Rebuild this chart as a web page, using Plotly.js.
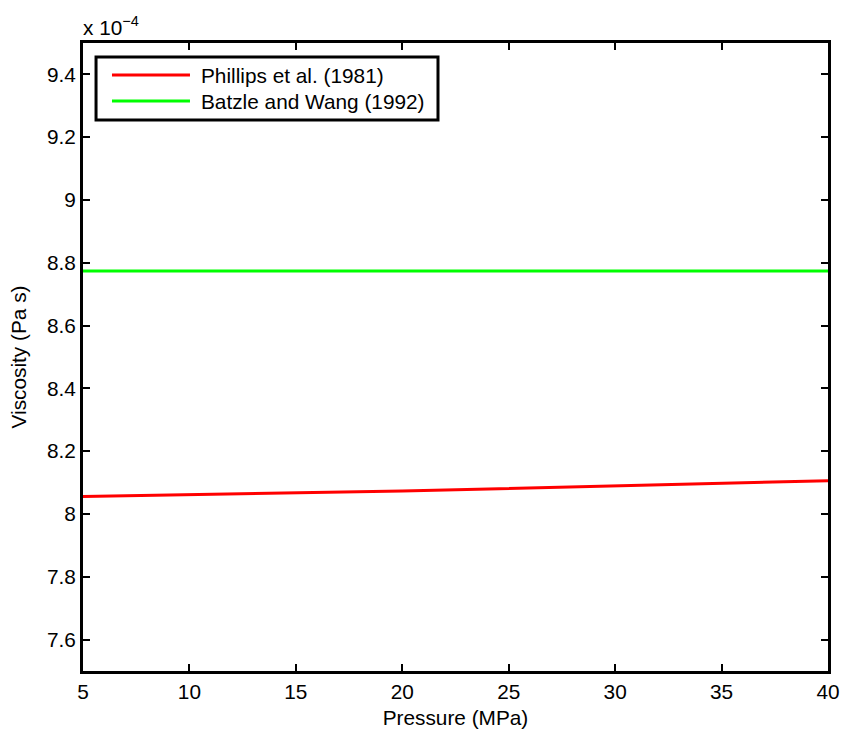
<!DOCTYPE html>
<html>
<head>
<meta charset="utf-8">
<script src="https://cdn.plot.ly/plotly-3.0.1.min.js"></script>
<style>html,body{margin:0;padding:0;background:#fff;}#chart{width:842px;height:733px;}</style>
</head>
<body>
<div id="chart"></div>
<script>
// Pressure (MPa)
const pressure = [5, 20, 40];
// Viscosity in units of 1e-4 Pa s
const phillips = [8.056, 8.073, 8.106];
const batzleWang = [8.774, 8.774, 8.774];
const seriesNames = ["Phillips et al. (1981)", "Batzle and Wang (1992)"];
const seriesColors = ["#ff0000", "#00ff00"];
const xTicks = [5, 10, 15, 20, 25, 30, 35, 40];
const yTicks = [7.6, 7.8, 8, 8.2, 8.4, 8.6, 8.8, 9, 9.2, 9.4];
const yTickLabels = ["7.6", "7.8", "8", "8.2", "8.4", "8.6", "8.8", "9", "9.2", "9.4"];

const FONT = "Liberation Sans, Arial, sans-serif";
const FS = 20.8;

const traces = [
  {x: pressure, y: phillips, mode: "lines", name: seriesNames[0], line: {color: seriesColors[0], width: 3}, showlegend: false},
  {x: pressure, y: batzleWang, mode: "lines", name: seriesNames[1], line: {color: seriesColors[1], width: 3}, showlegend: false}
];

// Legend drawn MATLAB-style (box, sample lines, labels)
const legY = [0.949, 0.9076];
const shapes = [
  {type: "rect", xref: "paper", yref: "paper", x0: 0.0175, x1: 0.4765, y0: 0.8774, y1: 0.9777,
   line: {color: "black", width: 3}, fillcolor: "white", layer: "above"}
];
const annotations = [
  {xref: "paper", yref: "paper", x: 0, y: 1, xanchor: "left", yanchor: "bottom", yshift: 2, xshift: -2,
   text: "x 10<sup>\u22124</sup>", showarrow: false, font: {family: FONT, size: FS, color: "black"}}
];
seriesNames.forEach((n, i) => {
  shapes.push({type: "line", xref: "paper", yref: "paper", x0: 0.0389, x1: 0.1436, y0: legY[i], y1: legY[i],
    line: {color: seriesColors[i], width: 3}, layer: "above"});
  annotations.push({xref: "paper", yref: "paper", x: 0.1557, y: legY[i], xanchor: "left", yanchor: "middle",
    text: n, showarrow: false, font: {family: FONT, size: FS, color: "black"}});
});

const layout = {
  width: 842, height: 733,
  margin: {l: 83, r: 14, t: 43, b: 62, pad: 0},
  paper_bgcolor: "white", plot_bgcolor: "white",
  font: {family: FONT, size: FS, color: "black"},
  xaxis: {
    range: [5, 40], tickvals: xTicks, ticktext: xTicks.map(String),
    ticks: "inside", ticklen: 7, tickwidth: 2, tickcolor: "black",
    showline: true, linecolor: "black", linewidth: 3, mirror: "ticks",
    showgrid: false, zeroline: false,
    tickfont: {family: FONT, size: FS, color: "black"},
    title: {text: "Pressure (MPa)", font: {family: FONT, size: FS, color: "black"}, standoff: 9}
  },
  yaxis: {
    range: [7.5, 9.5], tickvals: yTicks, ticktext: yTickLabels,
    ticks: "inside", ticklen: 7, tickwidth: 2, tickcolor: "black",
    showline: true, linecolor: "black", linewidth: 3, mirror: "ticks",
    showgrid: false, zeroline: false,
    tickfont: {family: FONT, size: FS, color: "black"},
    title: {text: "Viscosity (Pa s)", font: {family: FONT, size: FS, color: "black"}, standoff: 15}
  },
  shapes: shapes,
  annotations: annotations,
  showlegend: false
};

Plotly.newPlot("chart", traces, layout, {displayModeBar: false, staticPlot: true});
</script>
</body>
</html>
